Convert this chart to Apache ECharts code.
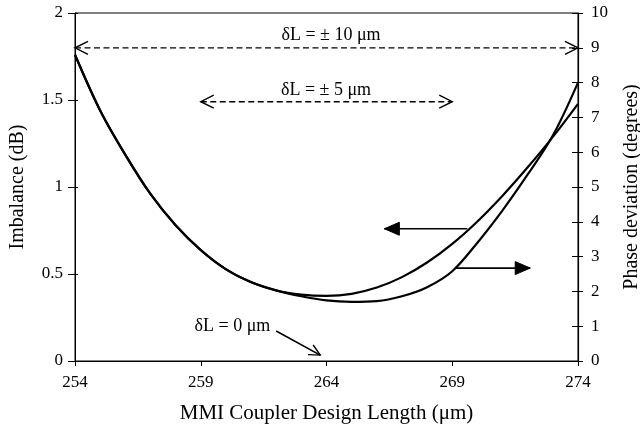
<!DOCTYPE html>
<html>
<head>
<meta charset="utf-8">
<script src="https://cdn.jsdelivr.net/npm/echarts@6/dist/echarts.min.js"></script>
<style>
  html, body { margin: 0; padding: 0; background: #fff; }
  #chart { width: 640px; height: 428px; }
</style>
</head>
<body>
<div id="chart"></div>
<script>
// MMI coupler design length (µm)
const lengths = [254, 255, 256, 257, 258, 259, 260, 261, 262, 263, 264,
                 265, 266, 267, 268, 269, 270, 271, 272, 273, 274];
// Power imbalance (dB), left axis
const imbalance = [1.76, 1.44, 1.185, 0.96, 0.78, 0.637, 0.527, 0.452, 0.405, 0.381, 0.374,
                   0.386, 0.422, 0.482, 0.566, 0.673, 0.802, 0.95, 1.113, 1.288, 1.478];
// Phase deviation (degrees), right axis
const phase = [8.8, 7.2, 5.93, 4.8, 3.9, 3.19, 2.64, 2.27, 2.03, 1.86, 1.74,
               1.70, 1.72, 1.86, 2.12, 2.58, 3.4, 4.33, 5.36, 6.48, 8.0];

const xTicks = [254, 259, 264, 269, 274];

// Annotation arrows in (length, dB) units: [x1, y1, x2, y2]
const arrowLines = [
  [254, 1.8, 274, 1.8],         // δL = ±10 µm span
  [259, 1.49, 269, 1.49],       // δL = ±5 µm span
  [269.6, 0.76, 266.3, 0.76],   // points to imbalance axis
  [269.15, 0.534, 272.1, 0.534],// points to phase axis
  [262.0, 0.172, 263.75, 0.034] // δL = 0 µm marker
];
const arrowDashed = [true, true, false, false, false];
const arrowHeads = ['both', 'both', 'filled', 'filled', 'open'];

// Annotation text in (length, dB) units
const noteX = [264.18, 263.98, 260.26];
const noteY = [1.874, 1.557, 0.201];
const noteText = ['δL = ± 10 μm', 'δL = ± 5 μm', 'δL = 0 μm'];

const FONT = '"Liberation Serif", "Times New Roman", serif';

function headPoints(tip, from, len, half) {
  const dx = tip[0] - from[0], dy = tip[1] - from[1];
  const d = Math.sqrt(dx * dx + dy * dy) || 1;
  const ux = dx / d, uy = dy / d;
  const bx = tip[0] - ux * len, by = tip[1] - uy * len;
  return [[bx - uy * half, by + ux * half], tip, [bx + uy * half, by - ux * half]];
}

function renderArrow(params, api) {
  const i = params.dataIndex;
  const a = arrowLines[i];
  const p1 = api.coord([a[0], a[1]]);
  const p2 = api.coord([a[2], a[3]]);
  const children = [{
    type: 'line',
    shape: { x1: p1[0], y1: p1[1], x2: p2[0], y2: p2[1] },
    style: { stroke: '#000', lineWidth: arrowDashed[i] ? 1.3 : 1.6,
             lineDash: arrowDashed[i] ? [6, 3.5] : null }
  }];
  const kind = arrowHeads[i];
  if (kind === 'both') {
    children.push({ type: 'polyline', shape: { points: headPoints(p2, p1, 13, 6.5) },
                    style: { stroke: '#000', lineWidth: 1.4, fill: null } });
    children.push({ type: 'polyline', shape: { points: headPoints(p1, p2, 13, 6.5) },
                    style: { stroke: '#000', lineWidth: 1.4, fill: null } });
  } else if (kind === 'filled') {
    children.push({ type: 'polygon', shape: { points: headPoints(p2, p1, 15, 6.5) },
                    style: { fill: '#000', stroke: '#000', lineWidth: 1 } });
  } else {
    children.push({ type: 'polyline', shape: { points: headPoints(p2, p1, 11, 5.5) },
                    style: { stroke: '#000', lineWidth: 1.4, fill: null } });
  }
  return { type: 'group', children: children };
}

function renderNote(params, api) {
  const i = params.dataIndex;
  const p = api.coord([noteX[i], noteY[i]]);
  return {
    type: 'text', x: p[0], y: p[1],
    style: { text: noteText[i], font: '18px ' + FONT, fill: '#000',
             align: 'center', verticalAlign: 'middle' }
  };
}

const chart = echarts.init(document.getElementById('chart'), null, { renderer: 'canvas' });

const axisLabelStyle = { color: '#000', fontFamily: FONT, fontSize: 17 };
const axisNameStyle = { color: '#000', fontFamily: FONT, fontSize: 20 };

chart.setOption({
  animation: false,
  backgroundColor: '#fff',
  grid: { left: 75, right: 62, top: 13, bottom: 67, show: true,
          containLabel: false, outerBoundsMode: 'none',
          borderColor: '#000', borderWidth: 1 },
  xAxis: [{
    type: 'value', min: 254, max: 274, interval: 5,
    name: 'MMI Coupler Design Length (μm)', nameLocation: 'middle', nameGap: 42,
    nameTextStyle: Object.assign({}, axisNameStyle, { fontSize: 21 }),
    axisLine: { lineStyle: { color: '#000', width: 1.2 } },
    axisTick: { length: 5, lineStyle: { color: '#000' } },
    axisLabel: Object.assign({ margin: 13,
      formatter: v => (xTicks.indexOf(v) >= 0 ? String(v) : '') }, axisLabelStyle),
    splitLine: { show: false }
  }],
  yAxis: [{
    type: 'value', min: 0, max: 2, interval: 0.5, position: 'left',
    name: 'Imbalance (dB)', nameLocation: 'middle', nameGap: 47,
    nameTextStyle: axisNameStyle,
    axisLine: { show: true, lineStyle: { color: '#000', width: 1 } },
    axisTick: { show: true, length: 7, lineStyle: { color: '#000' } },
    axisLabel: Object.assign({ margin: 12 }, axisLabelStyle),
    splitLine: { show: false }
  }, {
    type: 'value', min: 0, max: 10, interval: 1, position: 'right',
    name: 'Phase deviation (degrees)', nameLocation: 'middle', nameGap: 44,
    nameRotate: 90,
    nameTextStyle: axisNameStyle,
    axisLine: { show: true, lineStyle: { color: '#000', width: 1.2 } },
    axisTick: { show: true, length: 5, lineStyle: { color: '#000' } },
    axisLabel: Object.assign({ margin: 13 }, axisLabelStyle),
    splitLine: { show: false }
  }, {
    // inner half of the crossing ticks on the left
    type: 'value', min: 0, max: 2, interval: 0.5, position: 'left',
    axisLine: { show: false },
    axisTick: { show: true, inside: true, length: 3, lineStyle: { color: '#000' } },
    axisLabel: { show: false }, splitLine: { show: false }
  }, {
    // inner half of the crossing ticks on the right
    type: 'value', min: 0, max: 10, interval: 1, position: 'right',
    axisLine: { show: false },
    axisTick: { show: true, inside: true, length: 6, lineStyle: { color: '#000' } },
    axisLabel: { show: false }, splitLine: { show: false }
  }],
  series: [{
    name: 'Imbalance', type: 'line', yAxisIndex: 0,
    data: lengths.map((x, i) => [x, imbalance[i]]),
    smooth: 0.35, showSymbol: false, symbol: 'none',
    lineStyle: { color: '#000', width: 2.2 }, z: 5
  }, {
    name: 'Phase deviation', type: 'line', yAxisIndex: 1,
    data: lengths.map((x, i) => [x, phase[i]]),
    smooth: 0.35, showSymbol: false, symbol: 'none',
    lineStyle: { color: '#000', width: 2.2 }, z: 5
  }, {
    type: 'custom', yAxisIndex: 0,
    data: arrowLines.map(a => [a[0], a[1]]),
    renderItem: renderArrow, silent: true, clip: false, z: 6
  }, {
    type: 'custom', yAxisIndex: 0,
    data: noteX.map((x, i) => [x, noteY[i]]),
    renderItem: renderNote, silent: true, clip: false, z: 6
  }]
});
</script>
</body>
</html>
